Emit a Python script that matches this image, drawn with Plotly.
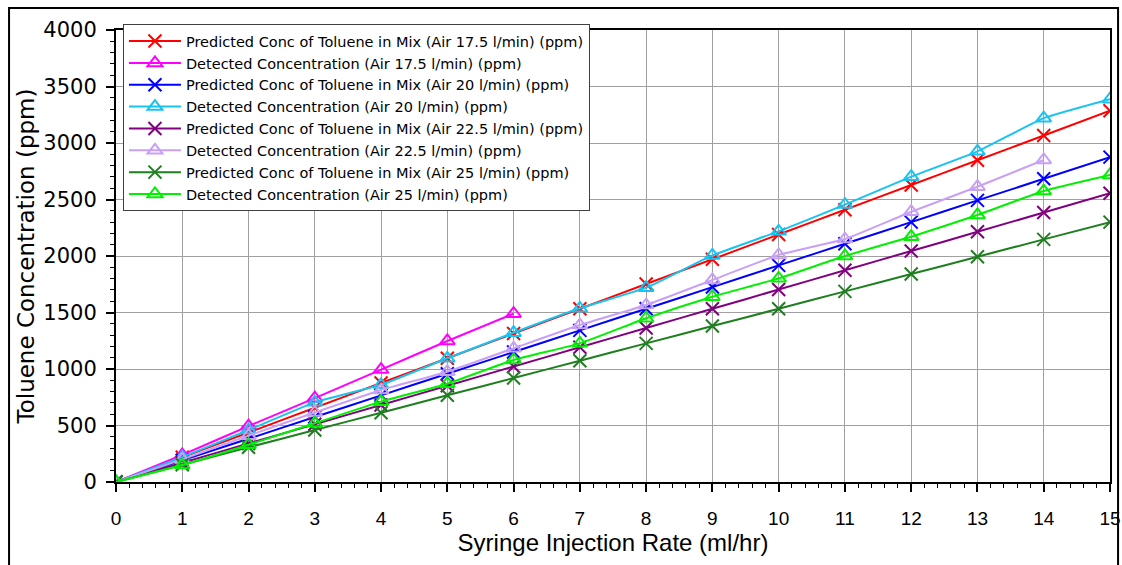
import plotly.graph_objects as go

# Syringe injection rate (ml/hr)
rate = list(range(16))
rate_short = list(range(7))

# Predicted toluene concentration in the mix (ppm) for each air flow
pred_17_5 = [0, 219, 438, 657, 876, 1095, 1314, 1533, 1752, 1971, 2190, 2409, 2628, 2847, 3066, 3285]
pred_20 = [0, 192, 383, 575, 767, 958, 1150, 1342, 1533, 1725, 1917, 2108, 2300, 2492, 2683, 2875]
pred_22_5 = [0, 170, 341, 511, 681, 852, 1022, 1192, 1363, 1533, 1703, 1874, 2044, 2214, 2385, 2555]
pred_25 = [0, 153, 307, 460, 613, 767, 920, 1073, 1227, 1380, 1533, 1687, 1840, 1993, 2147, 2300]

# Detected concentration (ppm)
det_17_5 = [0, 240, 495, 742, 995, 1248, 1490]
det_20 = [0, 220, 460, 705, 860, 1095, 1321, 1537, 1720, 2005, 2218, 2455, 2702, 2926, 3220, 3388]
det_22_5 = [0, 200, 410, 615, 814, 976, 1183, 1389, 1566, 1788, 2009, 2150, 2392, 2613, 2850]
det_25 = [0, 150, 330, 520, 711, 870, 1080, 1227, 1449, 1640, 1802, 2000, 2171, 2363, 2575, 2717]

series = [
    ("Predicted Conc of Toluene in Mix (Air 17.5 l/min) (ppm)", rate, pred_17_5, "#FF0000", "x-thin-open"),
    ("Detected Concentration (Air 17.5 l/min) (ppm)", rate_short, det_17_5, "#FF00FF", "triangle-up-open"),
    ("Predicted Conc of Toluene in Mix (Air 20 l/min) (ppm)", rate, pred_20, "#0000FF", "x-thin-open"),
    ("Detected Concentration (Air 20 l/min) (ppm)", rate, det_20, "#19C3F0", "triangle-up-open"),
    ("Predicted Conc of Toluene in Mix (Air 22.5 l/min) (ppm)", rate, pred_22_5, "#800080", "x-thin-open"),
    ("Detected Concentration (Air 22.5 l/min) (ppm)", rate[:15], det_22_5, "#C8A0F5", "triangle-up-open"),
    ("Predicted Conc of Toluene in Mix (Air 25 l/min) (ppm)", rate, pred_25, "#1E7F1E", "x-thin-open"),
    ("Detected Concentration (Air 25 l/min) (ppm)", rate, det_25, "#00F000", "triangle-up-open"),
]

fig = go.Figure()
for i, (name, xs, ys, color, symbol) in enumerate(series):
    fig.add_trace(go.Scatter(
        x=xs, y=ys, name=name, mode="lines+markers",
        line=dict(color=color, width=2, shape="spline", smoothing=0.4),
        marker=dict(symbol=symbol, size=13, color=color,
                    line=dict(color=color, width=2)),
    ))

wide_font = "DejaVu Sans, Verdana, sans-serif"

fig.update_layout(
    width=1122, height=565,
    margin=dict(l=116, r=12, t=30, b=83, autoexpand=False),
    paper_bgcolor="white", plot_bgcolor="white",
    showlegend=True,
    legend=dict(
        x=0.007, y=1.013, xanchor="left", yanchor="top",
        bgcolor="white", bordercolor="#404040", borderwidth=1,
        font=dict(family=wide_font, size=14.5, color="black"),
        tracegroupgap=0, itemwidth=52,
    ),
    xaxis=dict(
        range=[0, 15], dtick=1, tick0=0,
        showgrid=True, gridcolor="#A0A0A0", gridwidth=1,
        showline=True, linecolor="black", linewidth=2, mirror=True,
        ticks="outside", ticklen=8, tickwidth=2, tickcolor="black",
        minor=dict(dtick=0.2, ticks="outside", ticklen=4, tickwidth=1, tickcolor="black", showgrid=False),
        tickfont=dict(family="Liberation Sans, Arial", size=19, color="black"),
        ticklabelstandoff=10,
        title=dict(text="Syringe Injection Rate (ml/hr)",
                   font=dict(family="Liberation Sans, Arial", size=24, color="black"),
                   standoff=4),
        zeroline=False,
    ),
    yaxis=dict(
        range=[0, 4000], dtick=500, tick0=0,
        showgrid=True, gridcolor="#A0A0A0", gridwidth=1,
        showline=True, linecolor="black", linewidth=2, mirror=True,
        ticks="outside", ticklen=8, tickwidth=2, tickcolor="black",
        minor=dict(dtick=100, ticks="outside", ticklen=4, tickwidth=1, tickcolor="black", showgrid=False),
        tickfont=dict(family=wide_font, size=21, color="black"),
        ticklabelstandoff=5,
        title=dict(text="Toluene Concentration (ppm)",
                   font=dict(family=wide_font, size=23, color="black"), standoff=2),
        zeroline=False,
    ),
)

# outer frame around the whole chart
fig.add_shape(type="rect", xref="paper", yref="paper",
              x0=-0.1076, x1=1.0081, y0=-0.2, y1=1.0487,
              line=dict(color="black", width=2), fillcolor="rgba(0,0,0,0)", layer="below")

fig.write_html("out.html")
